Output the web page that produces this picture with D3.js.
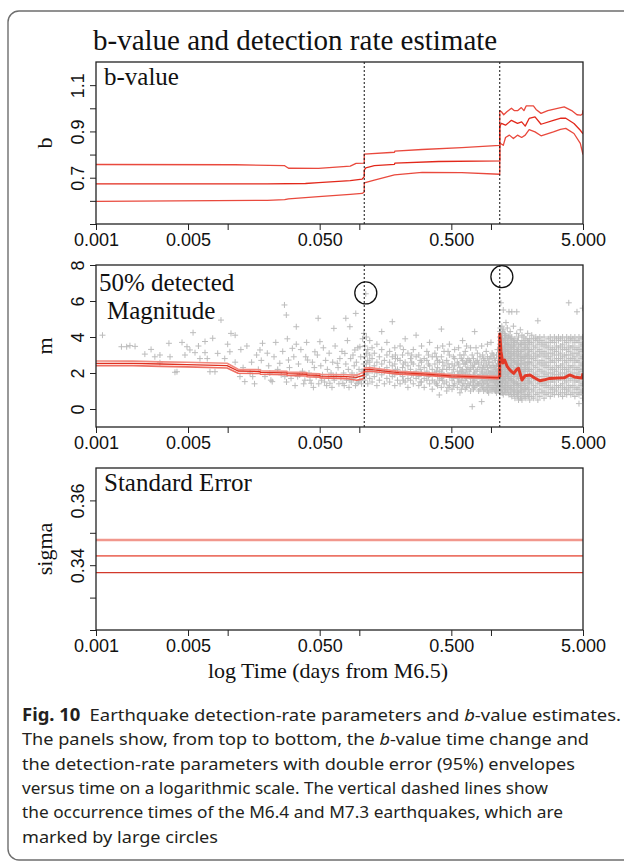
<!DOCTYPE html>
<html>
<head>
<meta charset="utf-8">
<script src="https://cdn.jsdelivr.net/npm/d3@7"></script>
<style>
body { margin: 0; background: #fff; }
</style>
</head>
<body>
<svg id="fig" width="624" height="864"></svg>
<script>
// ---- data ----
var timeTicks = [0.001, 0.005, 0.01, 0.05, 0.1, 0.5, 1, 5]
var timeLabels = [0.001, 0.005, 0.05, 0.5, 5]
var eventTimes = [0.109, 1.166]          // M6.4 and M7.3 (days from M6.5)
var bigQuakes = [[0.112, 6.45], [1.21, 7.35]]

var bTicks = [0.5, 0.6, 0.7, 0.8, 0.9, 1.0, 1.1]
var bLabels = [0.7, 0.9, 1.1]
var mTicks = [0, 2, 4, 6, 8]
var mLabels = [0, 2, 4, 6, 8]
var sTicks = [0.32, 0.33, 0.34, 0.35, 0.36]
var sLabels = [0.34, 0.36]

var bUpper = [[0.001,0.757],[0.0114,0.756],[0.0271,0.752],[0.029,0.741],[0.049,0.740],[0.0853,0.750],[0.0945,0.762],[0.109,0.763],
  [0.109,0.802],[0.185,0.810],[0.186,0.815],[0.30,0.822],[0.6,0.830],[1.166,0.840],
  [1.166,0.990],[1.2,0.985],[1.25,0.972],[1.32,0.985],[1.43,1.000],[1.5,0.990],[1.6,0.990],[1.7,1.003],[1.78,0.990],[1.85,1.010],
  [2.1,1.010],[2.2,0.995],[2.4,0.978],[2.7,0.990],[3.2,1.000],[3.6,1.006],[4.1,0.990],[4.5,0.972],[4.8,0.970],[4.95,0.975],[5.0,0.992]]
var bMid = [[0.001,0.673],[0.02,0.673],[0.039,0.675],[0.049,0.679],[0.0853,0.687],[0.105,0.694],[0.109,0.705],
  [0.109,0.733],[0.112,0.743],[0.13,0.752],[0.185,0.758],[0.186,0.763],[0.4,0.770],[1.166,0.773],
  [1.166,0.920],[1.2,0.935],[1.29,0.927],[1.43,0.948],[1.59,0.935],[1.71,0.941],[1.82,0.923],[1.95,0.956],[2.16,0.963],
  [2.4,0.931],[2.98,0.948],[3.4,0.957],[3.7,0.957],[4.27,0.934],[4.77,0.905],[5.0,0.890]]
var bLower = [[0.001,0.598],[0.02,0.602],[0.0271,0.605],[0.029,0.609],[0.049,0.618],[0.0853,0.628],[0.105,0.632],[0.109,0.638],
  [0.109,0.678],[0.13,0.690],[0.185,0.712],[0.3,0.723],[0.6,0.722],[1.166,0.715],
  [1.166,0.850],[1.24,0.840],[1.29,0.874],[1.38,0.884],[1.48,0.869],[1.59,0.884],[1.71,0.874],[1.82,0.884],[1.95,0.908],
  [2.16,0.898],[2.4,0.881],[2.98,0.898],[3.37,0.909],[3.7,0.913],[4.27,0.891],[4.77,0.848],[5.0,0.800]]

var mUpper = [[0.001,2.67],[0.0019,2.66],[0.0031,2.62],[0.0049,2.60],[0.0099,2.54],[0.0120,2.21],[0.0176,2.18],[0.0177,2.12],
  [0.0282,2.10],[0.0283,2.05],[0.0400,2.02],[0.0401,1.98],[0.0502,1.96],[0.0503,1.93],[0.080,1.90],[0.0955,1.88],[0.105,2.02],
  [0.109,2.05],[0.109,2.28],[0.12,2.30],[0.15,2.21],[0.2,2.10],[0.3,2.02],[0.5,1.91],[0.8,1.85],[1.1,1.81],[1.166,1.81]]
var mMid = [[0.001,2.54],[0.0019,2.54],[0.0031,2.50],[0.0049,2.47],[0.0099,2.41],[0.0120,2.11],[0.0176,2.08],[0.0177,2.03],
  [0.0282,2.01],[0.0283,1.96],[0.0400,1.93],[0.0401,1.89],[0.0502,1.87],[0.0503,1.83],[0.080,1.80],[0.0955,1.76],[0.105,1.86],
  [0.109,1.90],[0.109,2.18],[0.12,2.20],[0.15,2.12],[0.2,2.02],[0.3,1.95],[0.5,1.84],[0.8,1.79],[1.1,1.75],[1.166,1.75]]
var mLower = [[0.001,2.41],[0.0019,2.41],[0.0031,2.37],[0.0049,2.34],[0.0099,2.28],[0.0120,1.99],[0.0176,1.97],[0.0177,1.93],
  [0.0282,1.91],[0.0283,1.86],[0.0400,1.83],[0.0401,1.79],[0.0502,1.77],[0.0503,1.73],[0.080,1.69],[0.0955,1.60],[0.105,1.66],
  [0.109,1.72],[0.109,2.07],[0.12,2.10],[0.15,2.03],[0.2,1.94],[0.3,1.88],[0.5,1.77],[0.8,1.72],[1.1,1.69],[1.166,1.69]]
var mAfter = [[1.166,1.76],[1.167,4.17],[1.19,3.2],[1.23,2.56],[1.27,2.72],[1.33,2.35],[1.39,2.17],[1.45,2.05],[1.49,1.98],
  [1.57,2.2],[1.62,2.26],[1.72,1.61],[1.82,1.85],[1.98,1.89],[2.15,1.72],[2.35,1.57],[2.55,1.62],[2.79,1.7],[3.2,1.72],
  [3.6,1.73],[3.95,1.89],[4.3,1.78],[4.7,1.74],[4.9,1.72],[5.0,1.98]]

var sigmaUpper = [[0.001,0.3478],[5,0.3478]]
var sigmaMid = [[0.001,0.3429],[5,0.3429]]
var sigmaLower = [[0.001,0.3377],[5,0.3377]]

// event magnitudes, one row per time: "t: m m m"
var quakeRows = `
0.00112: 4.10
0.00156: 3.46
0.00171: 3.46
0.00181: 3.52
0.00198: 3.48
0.00235: 3.05
0.00262: 3.31
0.00280: 2.90
0.00306: 3.00 2.57
0.00358: 3.65
0.00365: 2.90
0.00398: 2.04
0.00412: 2.07
0.00450: 3.70
0.00474: 3.00
0.00491: 3.46
0.00517: 3.28
0.00546: 4.24
0.00565: 3.13
0.00600: 3.50
0.00616: 2.80
0.00673: 3.13 3.75
0.00700: 2.80
0.00734: 2.07
0.00770: 3.93
0.00801: 2.07
0.00840: 3.09
0.00890: 4.94
0.00950: 2.80
0.01000: 3.60
0.01040: 3.18
0.01060: 4.20
0.0114: 4.1 2.6
0.0124: 1.8
0.0126: 3.3
0.0131: 2.3
0.0135: 1.52
0.0140: 3.5
0.0148: 2.0
0.0152: 2.6
0.0155: 1.8
0.0160: 1.4
0.0166: 3.0
0.0171: 2.2
0.0176: 3.28
0.0180: 2.7
0.0184: 3.65
0.0192: 1.8
0.0200: 3.1
0.0205: 2.4
0.0209: 2.0
0.0213: 1.6
0.0218: 1.52
0.0225: 2.9
0.0232: 3.7
0.0240: 2.2
0.0249: 2.54
0.0255: 1.9
0.0262: 3.2
0.0270: 5.78
0.0272: 1.8
0.0279: 5.22
0.0280: 1.5
0.0284: 3.9
0.0290: 2.72
0.0295: 2.3
0.0303: 1.7
0.0310: 3.37
0.0318: 2.9
0.0325: 1.3
0.0332: 3.6 4.57
0.0340: 1.8
0.0345: 2.5
0.0352: 1.9
0.0360: 3.3
0.0370: 2.1
0.0378: 1.4
0.0386: 1.6
0.0392: 2.9
0.0398: 3.7
0.0405: 2.72
0.0415: 2.0
0.0422: 1.6
0.0431: 1.43
0.0440: 2.6
0.0448: 1.2
0.0455: 2.3
0.0460: 3.18
0.0470: 1.8
0.0480: 3.0
0.0487: 5.04
0.0492: 1.4
0.0502: 3.74
0.0510: 2.4
0.0515: 1.6
0.0525: 1.9
0.0533: 3.4
0.0545: 1.5
0.0555: 2.7
0.0565: 1.3
0.0572: 2.2
0.0585: 1.7
0.0590: 3.1
0.0598: 1.43
0.0610: 2.0
0.0620: 1.2
0.0628: 2.6
0.0635: 1.8
0.0641: 4.48
0.0645: 1.6
0.0655: 3.5
0.0668: 1.9
0.0680: 2.54
0.0690: 2.3
0.0700: 1.4
0.0712: 2.8
0.0725: 1.7
0.0738: 3.2
0.0750: 1.43
0.0760: 2.0
0.0768: 1.3
0.0777: 3.09
0.0790: 2.5 5.04
0.0800: 1.6
0.0812: 3.8
0.0825: 2.2
0.0835: 1.2
0.0848: 1.6 4.57
0.0860: 2.8
0.0870: 1.5
0.0880: 2.0
0.0895: 3.0
0.0905: 1.7
0.0915: 2.4
0.0925: 3.28
0.0935: 1.3
0.0940: 5.31
0.0950: 2.6
0.0960: 1.9 1.43
0.0975: 3.4
0.0985: 1.5
0.0995: 2.2
0.1010: 1.6 3.46
0.1025: 2.9
0.1040: 1.4
0.1050: 2.1
0.1060: 3.9
0.1070: 1.8
0.1080: 2.5
0.1085: 4.2
0.110: 1.6 2.2 2.9 3.5
0.112: 6.4
0.113: 1.9 2.5 3.1 4.0
0.116: 1.4 2.0 2.7 3.3
0.120: 1.7 2.3 2.6 3.0 3.8
0.125: 1.5 2.1 2.8 3.4
0.130: 1.8 2.4 3.1
0.136: 1.3 2.0 2.6 3.6
0.142: 1.6 2.2 2.9
0.148: 1.9 2.5 3.3 4.3
0.155: 1.4 2.1 2.7
0.162: 1.7 2.3 3.0 3.7
0.170: 1.5 2.0 2.6 3.2
0.178: 1.8 2.4 2.9 4.85
0.186: 1.3 1.9 2.5 3.4
0.188: 2.2 2.8 3.0
0.195: 1.6 2.2 2.8
0.204: 1.4 2.0 2.7 3.5
0.213: 1.8 2.3 3.0
0.216: 1.6 2.5 3.3
0.223: 1.5 2.1 2.6 3.9
0.234: 1.2 1.7 2.4 3.1
0.245: 1.6 2.2 2.8
0.250: 1.9 2.6 3.0
0.257: 1.4 1.9 2.5 3.3
0.270: 1.7 2.1 2.9 4.1
0.283: 1.3 1.8 2.4 3.0
0.290: 1.5 2.2 2.7
0.297: 1.5 2.0 2.6 3.5
0.311: 1.2 1.7 2.3 2.8
0.326: 1.6 2.1 2.7 3.2
0.335: 1.8 2.5 3.0
0.342: 1.4 1.9 2.4 3.7
0.358: 1.1 1.6 2.2 2.9
0.375: 1.5 2.0 2.5 3.1
0.385: 1.4 2.1 2.9
0.393: 1.3 1.8 2.3 2.7 3.4
0.405: 0.78 1.6 2.1 2.6
0.420: 1.2 1.7 2.0 2.9 4.44
0.430: 1.6 2.2 2.6 3.5
0.440: 1.4 1.9 2.4 3.2
0.461: 1.0 1.5 2.2 2.7
0.472: 1.2 1.9 2.5 3.2
0.483: 1.3 1.8 2.3 3.0 3.6
0.506: 1.1 1.6 2.0 2.5
0.518: 1.3 1.7 2.2 2.9
0.530: 1.4 1.9 2.4 2.8 3.3
0.555: 1.2 1.7 2.1 2.6
0.568: 1.5 1.9 2.5 3.4
0.581: 0.9 1.5 2.0 2.3 3.0
0.595: 1.1 1.6 2.1 2.8
0.609: 1.3 1.8 2.2 2.7 3.8
0.623: 1.4 2.0 2.5 3.0
0.638: 1.1 1.6 2.0 2.5 3.2
0.653: 1.2 1.7 2.2 2.6 3.5
0.668: 1.4 1.9 2.3 2.8
0.684: 1.3 1.8 2.1 2.7
0.700: 1.0 1.5 1.8 2.2 2.6 3.4
0.720: 0.13 1.3 1.7 2.4 3.0
0.736: 1.1 1.5 1.9 2.3 2.8
0.752: 1.2 1.6 2.0 2.5 4.3
0.770: 1.3 1.7 2.1 2.6 3.4
0.788: 1.4 1.8 2.2 2.7 3.1
0.806: 1.0 1.4 1.8 2.5
0.825: 1.1 1.5 1.9 2.3 2.9
0.850: 0.41 1.3 1.7 2.1 2.6 3.5
0.865: 1.2 1.6 2.0 2.3 3.0
0.880: 1.0 1.4 1.8 2.4 2.8
0.900: 1.1 1.5 1.9 2.2 2.7
0.920: 1.2 1.6 2.0 2.5 3.2
0.940: 1.0 1.4 1.8 2.3 2.9 3.6
0.960: 0.9 1.3 1.7 2.1 2.6
0.980: 1.2 1.6 2.0 2.4 2.8
1.000: 1.1 1.5 1.9 2.3 2.9 3.7
1.020: 1.0 1.3 1.7 2.1 2.6 3.1
1.040: 1.2 1.6 2.0 2.4 3.0
1.060: 1.1 1.5 1.9 2.3 2.8
1.080: 1.0 1.4 1.8 2.2 2.7
1.100: 0.9 1.2 1.6 2.0 2.4 3.0
1.120: 1.3 1.7 2.1 2.5 3.3
1.135: 1.0 1.4 1.8 2.2 2.7
1.150: 1.1 1.5 1.9 2.4
1.17: 1.2 1.5 1.9 2.2 2.6 2.9 3.3 3.6 4.0 4.3
1.18: 1.0 1.4 1.7 2.1 2.4 2.7 3.1 3.4 3.8 4.5
1.19: 0.9 1.3 1.7 2.0 2.4 2.8 3.1 3.5 3.9 4.2 5.9
1.21: 1.1 1.4 1.8 2.1 2.5 2.7 3.0 3.4 3.7 4.1 4.6
1.225: 0.9 1.3 1.6 2.0 2.3 2.7 3.1 3.5 3.9 4.3
1.24: 0.8 1.2 1.6 1.9 2.3 2.6 3.0 3.3 3.8 4.4 5.5
1.27: 1.0 1.3 1.7 2.1 2.4 2.8 3.2 3.5 3.9 4.2
1.285: 1.1 1.5 1.8 2.2 2.6 3.0 3.3 3.7 4.1
1.30: 0.9 1.2 1.5 1.9 2.2 2.6 2.9 3.3 3.6 4.0 4.8
1.33: 1.1 1.4 1.8 2.0 2.4 2.7 3.1 3.4 3.8 4.5
1.35: 0.9 1.3 1.7 2.0 2.4 2.8 3.2 3.6 4.0
1.37: 0.8 1.2 1.6 1.9 2.3 2.5 2.9 3.2 3.6 4.1 5.4
1.40: 1.0 1.3 1.7 2.1 2.4 2.8 3.0 3.4 3.9 4.3
1.42: 0.8 1.2 1.6 2.0 2.4 2.7 3.1 3.5 3.9
1.44: 0.7 1.1 1.5 1.8 2.2 2.6 2.9 3.3 3.7 4.0 5.4
1.48: 0.9 1.3 1.6 2.0 2.3 2.7 3.1 3.5 3.8 4.6
1.50: 0.8 1.1 1.5 1.9 2.2 2.6 3.0 3.4 3.7
1.52: 0.6 1.0 1.4 1.8 2.1 2.5 2.8 3.2 3.6 3.9
1.57: 0.8 1.2 1.5 1.9 2.3 2.6 3.0 3.3 3.7 4.2 5.4
1.595: 0.7 1.0 1.4 1.8 2.2 2.5 2.9 3.3 3.8
1.62: 0.5 0.9 1.3 1.7 2.0 2.4 2.7 3.1 3.5 4.0
1.67: 0.7 1.1 1.4 1.8 2.2 2.5 2.9 3.2 3.6 4.4
1.695: 0.6 1.0 1.3 1.7 2.1 2.5 2.8 3.2 3.6
1.72: 0.5 0.9 1.2 1.6 2.0 2.3 2.7 3.0 3.4 3.8 4.1
1.78: 0.8 1.1 1.5 1.9 2.2 2.6 2.9 3.3 3.7 4.0
1.81: 0.7 1.1 1.4 1.8 2.2 2.5 2.9 3.3 3.6
1.84: 0.6 1.0 1.3 1.7 2.1 2.4 2.8 3.1 3.5 3.9
1.90: 0.8 1.2 1.6 1.9 2.3 2.6 3.0 3.4 3.8 4.2
1.935: 0.7 1.1 1.5 1.8 2.2 2.6 3.0 3.3 3.7
1.97: 0.5 0.9 1.4 1.7 2.1 2.5 2.8 3.2 3.6 3.9
2.04: 0.7 1.1 1.5 1.8 2.2 2.6 2.9 3.3 3.7 4.1
2.11: 0.6 1.0 1.3 1.7 2.0 2.4 2.8 3.1 3.5 3.9
2.19: 0.8 1.2 1.6 1.9 2.3 2.7 3.0 3.4 3.8 4.0
2.27: 0.5 0.9 1.4 1.8 2.1 2.5 2.9 3.2 3.6 3.9 4.9
2.35: 0.7 1.1 1.5 1.8 2.2 2.6 3.0 3.3 3.7 4.0
2.44: 0.9 1.3 1.6 2.0 2.4 2.7 3.1 3.5 3.8
2.53: 0.6 1.0 1.4 1.8 2.1 2.5 2.9 3.2 3.6 4.0
2.62: 0.8 1.2 1.5 1.9 2.3 2.6 3.0 3.4 3.7
2.72: 0.9 1.3 1.7 2.0 2.4 2.8 3.1 3.5 3.9
2.82: 0.7 1.1 1.5 1.8 2.2 2.6 2.9 3.3 3.7 4.0
2.92: 0.9 1.2 1.6 2.0 2.3 2.7 3.1 3.4 3.8
3.03: 0.8 1.1 1.5 1.9 2.2 2.6 3.0 3.3 3.7 4.0
3.14: 1.0 1.3 1.7 2.1 2.4 2.8 3.2 3.5 3.9
3.26: 0.8 1.2 1.6 1.9 2.3 2.7 3.0 3.4 3.8 4.0
3.38: 0.9 1.3 1.7 2.0 2.4 2.8 3.1 3.5 3.9
3.50: 0.7 1.1 1.4 1.8 2.2 2.5 2.9 3.3 3.6 4.0
3.63: 0.9 1.2 1.6 2.0 2.3 2.7 3.0 3.4 3.8
3.76: 0.8 1.1 1.5 1.9 2.2 2.6 3.0 3.3 3.7 4.0
3.90: 1.0 1.3 1.7 2.1 2.4 2.8 3.2 3.5 3.9 5.9
4.04: 0.8 1.2 1.6 1.9 2.3 2.7 3.0 3.4 3.8 4.0
4.19: 0.9 1.3 1.7 2.0 2.4 2.8 3.1 3.5 3.9
4.34: 0.7 1.1 1.5 1.8 2.2 2.6 2.9 3.3 3.7 4.0
4.50: 0.9 1.2 1.6 2.0 2.3 2.7 3.1 3.4 3.8 5.4
4.66: 0.3 0.8 1.1 1.5 1.9 2.2 2.6 3.0 3.3 3.7 4.0
4.83: 0.9 1.3 1.7 2.1 2.4 2.8 3.2 3.5 3.9
4.97: 0.6 1.0 1.4 1.8 2.2 2.5 2.9 3.3 3.6 4.0 5.6
`

var captionLines = [
  [["Fig. 10", "b"], ["\u2002Earthquake detection-rate parameters and ", ""], ["b", "i"], ["-value estimates.", ""]],
  [["The panels show, from top to bottom, the ", ""], ["b", "i"], ["-value time change and", ""]],
  [["the detection-rate parameters with double error (95%) envelopes", ""]],
  [["versus time on a logarithmic scale. The vertical dashed lines show", ""]],
  [["the occurrence times of the M6.4 and M7.3 earthquakes, which are", ""]],
  [["marked by large circles", ""]]
]
var captionWidths = [599, 567, 553, 526, 541, 196]

// ---- drawing ----
var SANS = "'Liberation Sans', Arial, Helvetica, sans-serif"
var SERIF = "'Liberation Serif', 'Times New Roman', Times, serif"
var L = 96, R = 583, H = 162

var svg = d3.select("#fig")
var x = d3.scaleLog().domain([0.001, 5]).range([L, R])
var fmt3 = d3.format(".3f")

svg.append("rect")
  .attr("x", 8).attr("y", 11).attr("width", 640).attr("height", 849).attr("rx", 11)
  .attr("fill", "none").attr("stroke", "#6e6e6e").attr("stroke-width", 1.4)

svg.append("text")
  .attr("x", 93).attr("y", 50)
  .attr("font-family", SERIF).attr("font-size", 29).attr("fill", "#111")
  .text("b-value and detection rate estimate")

function panel(id, top, dom, ticks, labels, fmt, ytitle) {
  var y = d3.scaleLinear().domain(dom).range([top + H, top])
  var g = svg.append("g")
  g.append("clipPath").attr("id", "clip" + id)
    .append("rect").attr("x", L).attr("y", top).attr("width", R - L).attr("height", H)

  var xa = g.append("g")
    .attr("transform", "translate(0," + (top + H) + ")")
    .call(d3.axisBottom(x).tickValues(timeTicks).tickSize(6).tickSizeOuter(0)
      .tickFormat(d => timeLabels.indexOf(d) >= 0 ? fmt3(d) : ""))
  xa.select(".domain").remove()
  xa.selectAll("line").attr("stroke", "#222")
  xa.selectAll("text").attr("font-family", SANS).attr("font-size", 18).attr("fill", "#111")

  var ya = g.append("g")
    .attr("transform", "translate(" + L + ",0)")
    .call(d3.axisLeft(y).tickValues(ticks).tickSize(6).tickSizeOuter(0)
      .tickFormat(d => labels.indexOf(d) >= 0 ? fmt(d) : ""))
  ya.select(".domain").remove()
  ya.selectAll("line").attr("stroke", "#222")
  ya.selectAll("text")
    .attr("transform", "rotate(-90)")
    .attr("x", 0).attr("y", -12).attr("dy", null)
    .attr("text-anchor", "middle")
    .attr("font-family", SANS).attr("font-size", 18).attr("fill", "#111")

  g.append("text")
    .attr("transform", "translate(52," + (top + H / 2) + ") rotate(-90)")
    .attr("text-anchor", "middle")
    .attr("font-family", SERIF).attr("font-size", 22).attr("fill", "#111")
    .text(ytitle)

  var plot = g.append("g").attr("clip-path", "url(#clip" + id + ")")
  return { y: y, g: g, plot: plot, top: top }
}

function drawLine(p, data, color, width) {
  var line = d3.line().x(d => x(d[0])).y(d => p.y(d[1]))
  p.plot.append("path")
    .attr("d", line(data))
    .attr("fill", "none").attr("stroke", color)
    .attr("stroke-width", width).attr("stroke-linejoin", "round")
}

function drawEvents(p) {
  p.plot.selectAll(".ev").data(eventTimes).join("line")
    .attr("x1", d => x(d)).attr("x2", d => x(d))
    .attr("y1", p.top).attr("y2", p.top + H)
    .attr("stroke", "#111").attr("stroke-width", 1).attr("stroke-dasharray", "2,2")
}

function frame(p) {
  p.g.append("rect")
    .attr("x", L).attr("y", p.top).attr("width", R - L).attr("height", H)
    .attr("fill", "none").attr("stroke", "#222").attr("stroke-width", 1.3)
}

function label(lines, xs, ys) {
  lines.forEach((s, i) => {
    svg.append("text").attr("x", xs[i]).attr("y", ys[i])
      .attr("font-family", SERIF).attr("font-size", 25).attr("fill", "#111").text(s)
  })
}

// panel 1: b-value
var p1 = panel(1, 62, [0.5, 1.2], bTicks, bLabels, d3.format(".1f"), "b")
drawLine(p1, bUpper, "#e9493d", 1.3)
drawLine(p1, bMid, "#e2281b", 1.3)
drawLine(p1, bLower, "#e9493d", 1.3)
drawEvents(p1)
frame(p1)
label(["b-value"], [104], [85])

// panel 2: 50% detected magnitude
var p2 = panel(2, 265, [-1, 8], mTicks, mLabels, d3.format("d"), "m")
var quakes = []
quakeRows.trim().split("\n").forEach(r => {
  var parts = r.split(":")
  var t = +parts[0]
  parts[1].trim().split(/\s+/).forEach(m => quakes.push([t, +m]))
})
p2.plot.append("path")
  .attr("d", quakes.map(d => "M" + (x(d[0]) - 3) + "," + p2.y(d[1]) + "h6m-3,-3v6").join(""))
  .attr("fill", "none").attr("stroke", "#bcbcbc").attr("stroke-width", 1)
drawLine(p2, mUpper, "#f08a80", 1.6)
drawLine(p2, mLower, "#ee6e62", 1.6)
drawLine(p2, mMid, "#e0301f", 1.3)
drawLine(p2, mAfter, "#e23a28", 3)
drawEvents(p2)
p2.plot.selectAll(".big").data(bigQuakes).join("circle")
  .attr("cx", d => x(d[0])).attr("cy", d => p2.y(d[1])).attr("r", 11)
  .attr("fill", "none").attr("stroke", "#111").attr("stroke-width", 1.3)
frame(p2)
label(["50% detected", "Magnitude"], [99, 107], [291, 319])

// panel 3: standard error
var p3 = panel(3, 468, [0.32, 0.37], sTicks, sLabels, d3.format(".2f"), "sigma")
drawLine(p3, sigmaUpper, "#f1978d", 2.4)
drawLine(p3, sigmaMid, "#ec7467", 1.7)
drawLine(p3, sigmaLower, "#d2382b", 1.3)
frame(p3)
label(["Standard Error"], [104], [491])

svg.append("text")
  .attr("x", 328).attr("y", 678).attr("text-anchor", "middle")
  .attr("font-family", SERIF).attr("font-size", 22).attr("fill", "#111")
  .text("log Time (days from M6.5)")

// caption
captionLines.forEach((parts, i) => {
  var t = svg.append("text")
    .attr("x", 22).attr("y", 721 + i * 24.3)
    .attr("font-family", "'Noto Sans', 'Open Sans', sans-serif")
    .attr("font-size", 17).attr("fill", "#231f20")
    .attr("textLength", captionWidths[i]).attr("lengthAdjust", "spacingAndGlyphs")
  parts.forEach(p => {
    var s = t.append("tspan").text(p[0])
    if (p[1] === "b") s.attr("font-weight", "bold")
    if (p[1] === "i") s.attr("font-style", "italic")
  })
})
</script>
</body>
</html>
